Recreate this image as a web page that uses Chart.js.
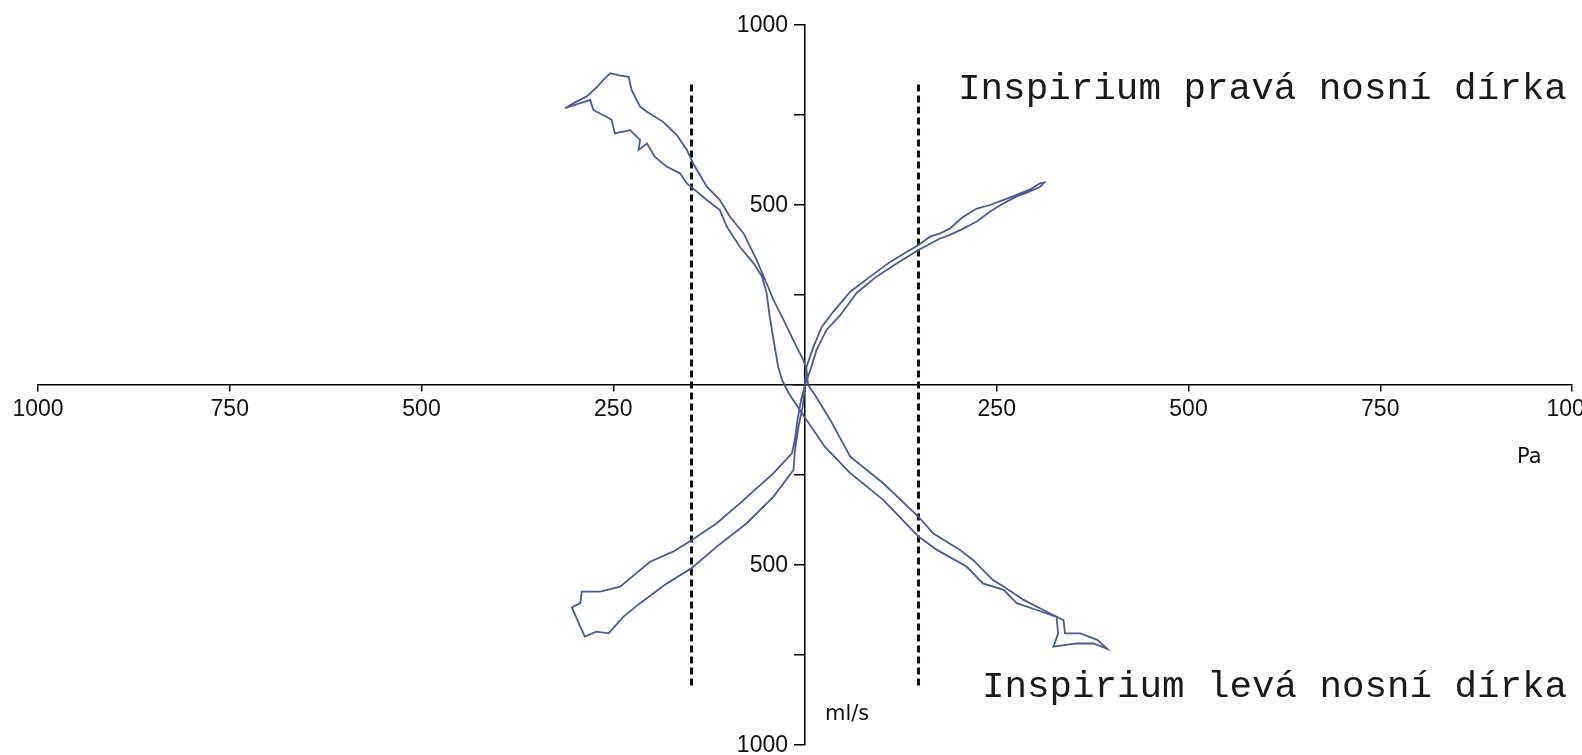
<!DOCTYPE html>
<html>
<head>
<meta charset="utf-8">
<script src="https://cdn.jsdelivr.net/npm/chart.js@4"></script>
<style>
    html, body { margin: 0; padding: 0; background: #fff; overflow: hidden; }
    canvas { display: block; }
</style>
</head>
<body>
<canvas id="rhino-chart" width="1582" height="755"></canvas>
<script>
// axis ranges and ticks
const xRange = [-1000, 1000];
const yRange = [-1000, 1000];
const tickStep = 250;
const yLabelled = [-1000, -500, 500, 1000];

// dashed limit lines (Pa) and how far they reach (ml/s)
const limitPressures = [-148, 148];
const limitFlows = [-835, 835];

// loop crossing quadrants I / III
const loopAPressure = [0, 2, 11, 22, 37, 59, 85, 111, 133, 148, 163, 176, 189, 205, 224, 241, 260, 276, 295, 306, 312,
    306, 290, 276, 255, 241, 224, 205, 189, 176, 148, 120, 93, 67, 46, 28, 15, 7, 0,
    -5, -10, -13, -17, -41, -85, -115, -148, -172, -202, -228, -241, -267, -291, -293, -304,
    -293, -287, -272, -256, -237, -215, -180, -148, -115, -76, -41, -15, -13, -8, -3, 0];
const loopAFlow = [0, 51, 106, 162, 204, 259, 301, 342, 370, 389, 412, 421, 435, 465, 490, 500, 515, 528, 545, 560, 562,
    550, 535, 524, 500, 481, 454, 433, 417, 407, 375, 338, 301, 255, 194, 153, 97, 42, 0,
    -40, -100, -150, -190, -245, -329, -384, -431, -463, -491, -537, -560, -574, -574, -606, -618,
    -671, -699, -685, -690, -644, -606, -551, -509, -449, -384, -310, -236, -180, -110, -60, 0];

// loop crossing quadrants II / IV
const loopBPressure = [-313, -300, -285, -270, -261, -254, -242, -230, -226, -215, -206, -185, -167, -154, -146, -128,
    -111, -98, -80, -63, -50, -41, -28, -11, -2, 2, 4, 13, 33, 59, 102, 148, 167, 202, 219, 245, 259, 285, 319,
    337, 339, 359, 381, 394,
    376, 354, 324, 330, 328, 302, 276, 259, 232, 211, 172, 148, 102, 59, 26, -7, -22, -30, -35, -41, -46,
    -50, -56, -67, -85, -102, -111, -128, -141, -154, -163, -180, -196, -206, -217, -215, -228, -248, -252,
    -259, -276, -280, -313];
const loopBFlow = [769, 785, 801, 830, 852, 866, 860, 856, 819, 773, 759, 731, 694, 653, 616, 551,
    514, 468, 421, 347, 282, 236, 181, 106, 69, 42, 0, -28, -97, -199, -273, -366, -412, -458, -486, -542, -560, -597, -634,
    -653, -690, -690, -708, -733,
    -718, -718, -727, -690, -644, -625, -606, -569, -551, -505, -458, -421, -319, -245, -172, -69, -20, 14, 51, 125, 190,
    255, 301, 338, 384, 440, 486, 514, 537, 560, 588, 606, 634, 671, 653, 681, 708, 699, 736,
    745, 764, 792, 769];

const upperNote = 'Inspirium pravá nosní dírka';
const lowerNote = 'Inspirium levá nosní dírka';
const xUnit = 'Pa';
const yUnit = 'ml/s';

const curveColor = '#4d5a8e';
const tickFont = '"Liberation Sans", Arial, sans-serif';

function toPoints(xs, ys) {
    return xs.map((x, i) => ({ x: x, y: ys[i] }));
}

function loopDataset(xs, ys) {
    return {
        data: toPoints(xs, ys),
        showLine: true,
        borderColor: curveColor,
        borderWidth: 1.8,
        pointRadius: 0,
        tension: 0
    };
}

function limitDataset(x) {
    return {
        data: toPoints([x, x], limitFlows),
        showLine: true,
        borderColor: '#111',
        borderWidth: 3,
        borderDash: [7, 4],
        pointRadius: 0
    };
}

// y labels (a centred y axis puts them on the line) and free texts
const notesPlugin = {
    id: 'notes',
    afterDraw(chart) {
        const ctx = chart.ctx;
        const xScale = chart.scales.x;
        const yScale = chart.scales.y;
        const axisX = xScale.getPixelForValue(0);
        ctx.save();
        ctx.fillStyle = '#111';
        ctx.font = '23px ' + tickFont;
        ctx.textAlign = 'right';
        ctx.textBaseline = 'middle';
        yLabelled.forEach(v => {
            ctx.fillText(String(Math.abs(v)), axisX - 17, yScale.getPixelForValue(v) + 1);
        });

        ctx.fillStyle = '#1a1a1a';
        ctx.textAlign = 'left';
        ctx.textBaseline = 'alphabetic';
        ctx.font = '37.6px "Liberation Mono", "DejaVu Sans Mono", monospace';
        ctx.fillText(upperNote, 958, 99);
        ctx.font = '37.5px "Liberation Mono", "DejaVu Sans Mono", monospace';
        ctx.fillText(lowerNote, 982, 697);

        ctx.fillStyle = '#111';
        ctx.textBaseline = 'middle';
        ctx.font = '21px "DejaVu Sans", sans-serif';
        ctx.fillText(xUnit, 1517, 458);
        ctx.fillText(yUnit, 825, 715);
        ctx.restore();
    }
};

function zeroFit(scale) {
    scale.paddingLeft = 0;
    scale.paddingRight = 0;
    scale.paddingTop = 0;
    scale.paddingBottom = 0;
}

const ctx = document.getElementById('rhino-chart').getContext('2d');
new Chart(ctx, {
    type: 'scatter',
    data: {
        datasets: [
            loopDataset(loopAPressure, loopAFlow),
            loopDataset(loopBPressure, loopBFlow),
            limitDataset(limitPressures[0]),
            limitDataset(limitPressures[1])
        ]
    },
    options: {
        responsive: false,
        animation: false,
        layout: { padding: { left: 38, right: 10, top: 25, bottom: 10 } },
        plugins: {
            legend: { display: false },
            tooltip: { enabled: false }
        },
        scales: {
            x: {
                type: 'linear',
                position: { y: 0 },
                min: xRange[0],
                max: xRange[1],
                afterFit: zeroFit,
                border: { color: '#000', width: 1.5 },
                grid: { drawOnChartArea: false, color: '#000', lineWidth: 1.5, tickLength: 6 },
                ticks: {
                    stepSize: tickStep,
                    autoSkip: false,
                    maxRotation: 0,
                    padding: 5,
                    color: '#111',
                    font: { family: tickFont, size: 23 },
                    callback: v => v === 0 ? '' : String(Math.abs(v))
                }
            },
            y: {
                type: 'linear',
                position: { x: 0 },
                min: yRange[0],
                max: yRange[1],
                afterFit: zeroFit,
                border: { color: '#000', width: 1.5 },
                grid: { drawOnChartArea: false, color: '#000', lineWidth: 1.5, tickLength: 10 },
                ticks: {
                    stepSize: tickStep,
                    autoSkip: false,
                    callback: () => ''
                }
            }
        }
    },
    plugins: [notesPlugin]
});
</script>
</body>
</html>
